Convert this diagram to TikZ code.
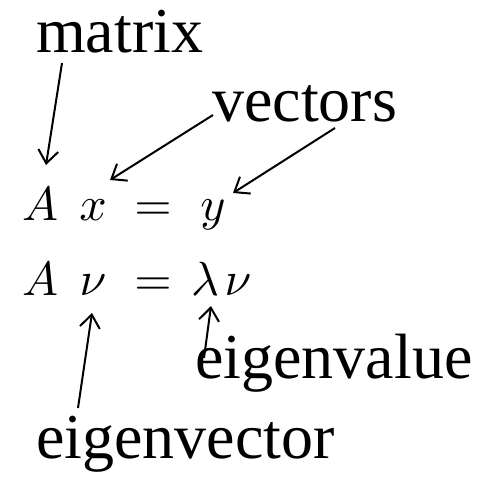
\documentclass[tikz,border=0pt]{standalone}
\usepackage{fontspec}
\setmainfont{Liberation Serif}
\usetikzlibrary{arrows.meta}
\newcommand{\BigSym}[1]{\scalebox{4.8}{$#1$}}
\begin{document}
\begin{tikzpicture}[x=1pt,y=-1pt,
  lbl/.style={anchor=base west,inner sep=0pt,font=\fontsize{64}{70}\selectfont},
  sym/.style={anchor=base,inner sep=0pt},
  pointer/.style={line width=2pt,-{Straight Barb[length=13pt,width=20pt,line width=2pt]}}]
\useasboundingbox (0,0) rectangle (485,482);
% labels
\node[lbl] (matrix) at (36,52) {matrix};
\node[lbl] (vectors) at (212,121) {vectors};
\node[lbl] (eval) at (195,378) {eigenvalue};
\node[lbl] (evec) at (36,458) {eigenvector};
% first equation
\node[sym] (A1) at (40,220) {\BigSym{A}};
\node[sym] (x1) at (93,220) {\BigSym{x}};
\node[sym] (eq1) at (153,220) {\BigSym{=}};
\node[sym] (y1) at (213,220) {\BigSym{y}};
% second equation
\node[sym] (A2) at (40,295) {\BigSym{A}};
\node[sym] (v2) at (93,295) {\BigSym{\nu}};
\node[sym] (eq2) at (153,295) {\BigSym{=}};
\node[sym] (l2) at (205,295) {\BigSym{\lambda}};
\node[sym] (v3) at (238,295) {\BigSym{\nu}};
% connector end points
\coordinate (m0) at (62,63);
\coordinate (mA) at (46,165);
\coordinate (v0) at (213,115);
\coordinate (vx) at (110,180);
\coordinate (v1) at (335,128);
\coordinate (vy) at (233,193);
\coordinate (e0) at (78,408);
\coordinate (ev) at (92,313);
\coordinate (l0) at (204,358);
\coordinate (el) at (211,306);
\draw[pointer] (m0) -- (mA);
\draw[pointer] (v0) -- (vx);
\draw[pointer] (v1) -- (vy);
\draw[pointer] (e0) -- (ev);
\draw[pointer] (l0) -- (el);
\end{tikzpicture}
\end{document}
